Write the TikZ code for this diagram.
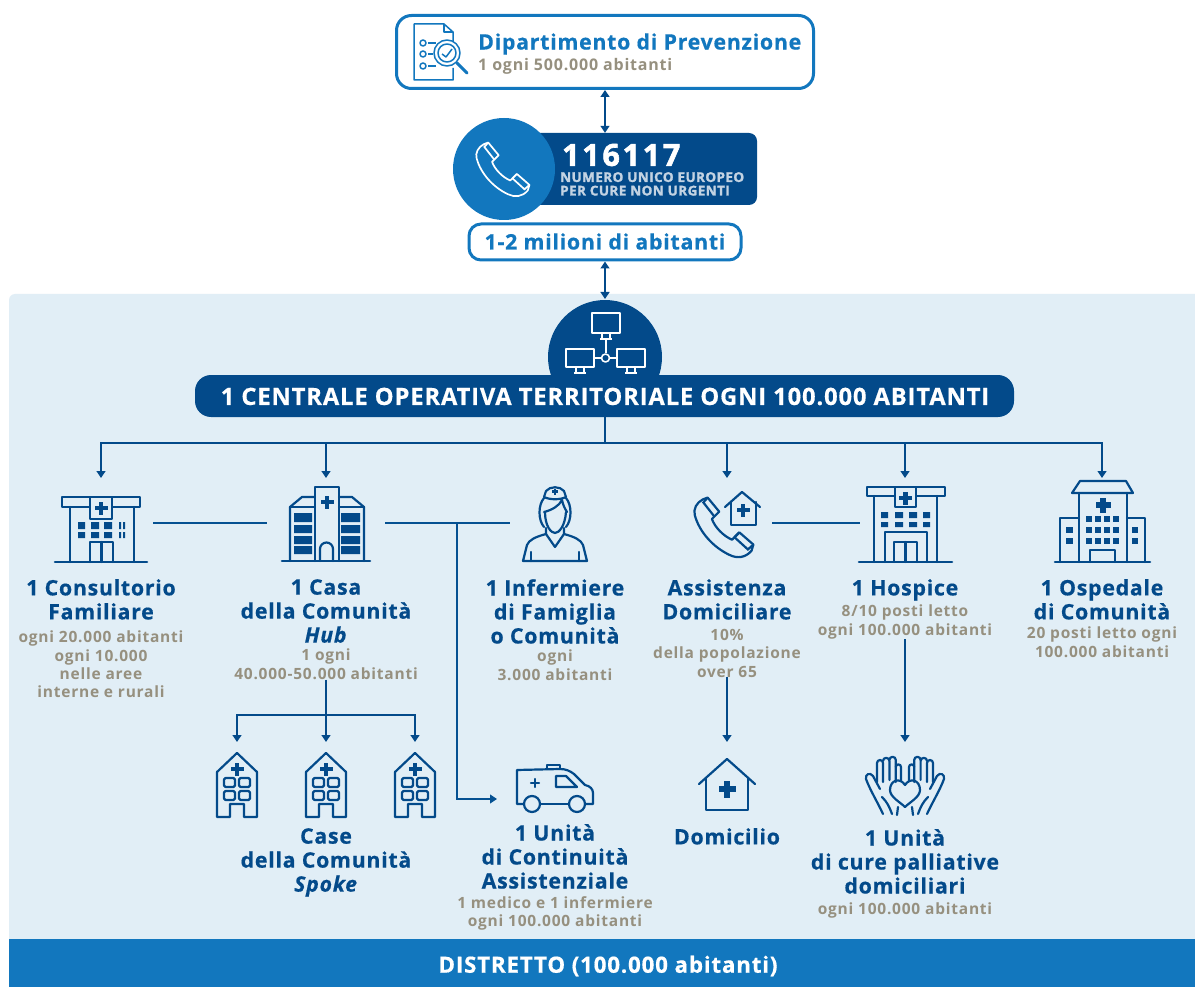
\documentclass[tikz,border=0pt]{standalone}
\usepackage{fontspec}
\setmainfont{Open Sans}[Ligatures=NoCommon]
\newfontfamily\numfont[LetterSpace=9,FakeBold=2]{Open Sans}
\newfontfamily\capsfont[LetterSpace=3,FakeBold=1.5]{Open Sans}
\newfontfamily\ttlfont[LetterSpace=3.5,FakeBold=.5,Ligatures=NoCommon]{Open Sans}
\newfontfamily\subfont[LetterSpace=5,Ligatures=NoCommon]{Open Sans}
\usetikzlibrary{arrows.meta,calc}
\definecolor{dkblue}{HTML}{034A8A}
\definecolor{mdblue}{HTML}{1277BE}
\definecolor{ltblue}{HTML}{E1EEF6}
\definecolor{tgrey}{HTML}{96907F}
\definecolor{pale}{HTML}{C3D3E3}
\newcommand{\plussign}[3]{\fill ({#1-#3/2},{#2-#3*.18}) rectangle ({#1+#3/2},{#2+#3*.18}); \fill ({#1-#3*.18},{#2-#3/2}) rectangle ({#1+#3*.18},{#2+#3/2});}
\newcommand{\phonecurve}[4]{\begin{scope}[shift={(#1,#2)},xscale=#3,yscale=#3,#4]
\draw[line join=round] (16,4) -- (24,1) -- (43,24) -- (31,36) .. controls (36,50) and (50,64) .. (64,70) -- (76,58) -- (99,78) -- (96,88) .. controls (86,100) and (72,101) .. (60,95) .. controls (32,82) and (10,56) .. (3,30) .. controls (0,20) and (6,9) .. (16,4) -- cycle;
\draw (24,1) -- (17,9) -- (35,32) (76,58) -- (68,66) (99,78) -- (90,86) -- (68,66);
\end{scope}}
\newcommand{\spokehouse}[1]{\begin{scope}[shift={(#1,0)}]
\draw[icon] (-20,772) -- (0,753) -- (20,772) -- (20,817) -- (7,817) -- (7,804) -- (-7,804) -- (-7,817) -- (-20,817) -- cycle;
\plussign{0}{769}{13}
\draw[icon,rounded corners=1.5pt] (-13,778) rectangle (-2,787) (2,778) rectangle (13,787) (-13,791) rectangle (-2,800) (2,791) rectangle (13,800);
\end{scope}}
\tikzset{
  x=1pt,y=-1pt,
  link/.style={draw=dkblue,line width=1.3pt},
  flat/.style={draw=dkblue!85!mdblue,line width=1.2pt},
  tip/.style={-{Triangle[width=9pt,length=7pt]}},
  dbl/.style={{Triangle[width=9pt,length=7pt]}-{Triangle[width=9pt,length=7pt]}},
  icon/.style={draw=dkblue,line width=2.2pt,line join=round,line cap=round},
  slot/.style={inner sep=0pt,outer sep=0pt,minimum width=#1},
  ttl/.style={anchor=north,align=center,inner sep=0pt,text=dkblue,font=\fontsize{21.3}{24}\ttlfont\bfseries},
  sub/.style={anchor=north,align=center,inner sep=0pt,text=tgrey,font=\fontsize{15.5}{18.3}\subfont\bfseries},
  frame/.style={draw=mdblue,line width=3pt,fill=white,inner sep=0pt},
}
\begin{document}
\begin{tikzpicture}
\useasboundingbox (0,0) rectangle (1195,987);
\fill[white] (0,0) rectangle (1195,987);
% panels
\fill[ltblue] (9,945) -- (9,300) arc[start angle=180,end angle=90,radius=6pt] -- (1195,294) -- (1195,945) -- cycle;
\fill[mdblue] (9,939) rectangle (1195,987);
\coordinate (panelTop) at (605,299);
\node[text=white,inner sep=0pt,font=\fontsize{22.4}{24}\ttlfont\bfseries] (distretto) at (608,966) {DISTRETTO (100.000 abitanti)};
% top box
\node[frame,rounded corners=15pt,minimum width=417pt,minimum height=73pt] (dip) at (605,52) {};
\node[anchor=west,inner sep=0pt,text=mdblue,font=\fontsize{21.3}{26}\ttlfont\bfseries] (dipT) at (478,44) {Dipartimento di Prevenzione};
\node[anchor=west,inner sep=0pt,text=tgrey,font=\fontsize{16}{18}\subfont\bfseries] (dipS) at (478,66) {1 ogni 500.000 abitanti};
\begin{scope}[draw=mdblue,line width=1.5pt,line join=round]
\draw (453,42) -- (453,32) -- (444,24) -- (414,24) -- (414,80) -- (453,80) -- (453,68);
\draw (444,24) -- (444,32) -- (453,32);
\draw (423,43) circle[radius=3pt] (423,54) circle[radius=3pt] (423,66) circle[radius=3pt];
\draw (428,43) -- (436,43) (428,54) -- (433,54) (428,66) -- (436,66);
\draw[fill=white] (447,53) circle[radius=13pt];
\draw (447,53) circle[radius=9pt];
\draw (442,54) -- (446,57) -- (452,49);
\draw[line width=3pt,line cap=round] (457,63) -- (467,73);
\end{scope}
% phone block
\node[fill=dkblue,rounded corners=8pt,minimum width=227pt,minimum height=72pt,inner sep=0pt] (tel) at (643.5,169) {};
\node[circle,fill=mdblue,minimum size=102pt,inner sep=0pt] (telC) at (504,169) {};
\phonecurve{475}{142}{.55}{draw=white,line width=1.7pt}
\node[anchor=west,inner sep=0pt,text=white,font=\fontsize{30.5}{34}\numfont\bfseries] (num) at (562,155) {116117};
\node[anchor=north west,align=left,inner sep=0pt,text=pale,font=\fontsize{13.5}{13.5}\capsfont\bfseries] (numS) at (560,172) {NUMERO UNICO EUROPEO\\PER CURE NON URGENTI};
\node[frame,rounded corners=12pt,minimum width=272pt,minimum height=36pt] (mil) at (605,242) {};
\node[inner sep=0pt,text=mdblue,font=\fontsize{21.3}{25}\ttlfont\bfseries] (milT) at (605,241.5) {1-2 milioni di abitanti};
% network circle and pill
\node[circle,fill=dkblue,minimum size=114pt,inner sep=0pt] (netC) at (605,357) {};
\begin{scope}[draw=white,line width=1.6pt,line join=round]
\draw (592,313) rectangle (620,333) (566,349) rectangle (594,367) (617,349) rectangle (645,367);
\draw (602,333) -- (602,338) (610,333) -- (610,338) (600,339) -- (612,339);
\draw (576,367) -- (576,372) (584,367) -- (584,372) (574,373) -- (586,373);
\draw (627,367) -- (627,372) (635,367) -- (635,372) (625,373) -- (637,373);
\draw (606,339) -- (606,353) (594,358) -- (601,358) (610,358) -- (617,358);
\draw (605.5,358) circle[radius=4pt];
\end{scope}
\node[fill=dkblue,rounded corners=16pt,minimum width=819pt,minimum height=42pt,inner sep=0pt] (pill) at (604.5,396) {};
\node[inner sep=0pt,text=white,font=\fontsize{23.8}{26}\ttlfont\bfseries] (pillT) at (605,396.5) {1 CENTRALE OPERATIVA TERRITORIALE OGNI 100.000 ABITANTI};
% invisible slots for icons
\node[slot=104pt,minimum height=90pt] (iCons) at (101,523) {};
\node[slot=118pt,minimum height=90pt] (iCasa) at (326,523) {};
\node[slot=90pt,minimum height=90pt] (iNurse) at (555,523) {};
\node[slot=90pt,minimum height=90pt] (iAss) at (727,523) {};
\node[slot=90pt,minimum height=90pt] (iHosp) at (905,523) {};
\node[slot=96pt,minimum height=90pt] (iOsp) at (1102,523) {};
\node[slot=44pt,minimum height=78pt] (iSpA) at (237,781) {};
\node[slot=44pt,minimum height=78pt] (iSpB) at (326,781) {};
\node[slot=44pt,minimum height=78pt] (iSpC) at (415,781) {};
\node[slot=100pt,minimum height=30pt] (iAmb) at (547,799) {};
\node[slot=60pt,minimum height=78pt] (iDom) at (727,781) {};
\node[slot=84pt,minimum height=78pt] (iHands) at (905,781) {};
% texts
\node[ttl] (tCons) at (101,579) {1 Consultorio\\Familiare};
\node[sub] (sCons) at (101,631) {ogni 20.000 abitanti\\ogni 10.000\\nelle aree\\interne e rurali};
\node[ttl] (tCasa) at (326,579) {1 Casa\\della Comunità\\\textit{Hub}};
\node[sub] (sCasa) at (326,649) {1 ogni\\40.000-50.000 abitanti};
\node[ttl] (tInf) at (555,579) {1 Infermiere\\di Famiglia\\o Comunità};
\node[sub] (sInf) at (555,650) {ogni\\3.000 abitanti};
\node[ttl] (tAss) at (727,579) {Assistenza\\Domiciliare};
\node[sub] (sAss) at (727,629) {10\%\\della popolazione\\over 65};
\node[ttl] (tHosp) at (905,579) {1 Hospice};
\node[sub] (sHosp) at (905,605) {8/10 posti letto\\ogni 100.000 abitanti};
\node[ttl] (tOsp) at (1102,579) {1 Ospedale\\di Comunità};
\node[sub] (sOsp) at (1102,627) {20 posti letto ogni\\100.000 abitanti};
\node[ttl] (tCase) at (326,828) {Case\\della Comunità\\\textit{Spoke}};
\node[ttl] (tUni) at (555,824) {1 Unità\\di Continuità\\Assistenziale};
\node[sub] (sUni) at (555,896) {1 medico e 1 infermiere\\ogni 100.000 abitanti};
\node[ttl] (tDom) at (727,828) {Domicilio};
\node[ttl] (tCure) at (905,829) {1 Unità\\di cure palliative\\domiciliari};
\node[sub] (sCure) at (905,903) {ogni 100.000 abitanti};
% connectors
\draw[link,dbl] (dip.south) -- (dip.south |- tel.north);
\draw[link,dbl] (mil.south) -- (panelTop);
\coordinate (bus) at (605,443);
\draw[link] (pill.south -| bus) -- (bus);
\draw[link,tip] (bus) -| (iCons.north);
\draw[link,tip] (bus) -| (iCasa.north);
\draw[link,tip] (bus) -| (iAss.north);
\draw[link,tip] (bus) -| (iHosp.north);
\draw[link,tip] (bus) -| (iOsp.north);
\draw[flat] (iCons.east) -- (iCasa.west);
\draw[flat] (iCasa.east) -- (iNurse.west);
\draw[flat] (iAss.east) -- (iHosp.west);
\coordinate (jCasa) at (457,523);
\draw[flat,tip] (jCasa) |- (iAmb.west);
\coordinate (spBus) at (326,715);
\draw[link,tip] (sCasa.south) -- (iSpB.north);
\draw[link,tip] (spBus) -| (iSpA.north);
\draw[link,tip] (spBus) -| (iSpC.north);
\draw[link,tip] (sAss.south) -- (iDom.north);
\draw[link,tip] (sHosp.south) -- (iHands.north);
% icon: consultorio
\draw[icon,line width=2.6pt] (55,562) -- (147,562);
\draw[icon] (62,497) rectangle (140,507);
\draw[icon] (70,507) -- (70,562) (134,507) -- (134,562);
\draw[icon,fill=ltblue] (90,497) rectangle (112,519);
\begin{scope}[fill=dkblue]
\plussign{101}{508}{13}
\fill (78,522) rectangle (85,529) (91,522) rectangle (99,529) (104,522) rectangle (112,529);
\fill (78,532) rectangle (85,538) (91,532) rectangle (99,538) (104,532) rectangle (112,538);
\fill (119,522) rectangle (121,529) (123,522) rectangle (125,529) (119,532) rectangle (121,538) (123,532) rectangle (125,538);
\end{scope}
\draw[icon] (90,562) -- (90,542) -- (113,542) -- (113,562) (101.5,542) -- (101.5,562);
% icon: casa
\draw[icon,line width=2.6pt] (282,561) -- (370,561);
\draw[icon] (315,561) -- (315,487) -- (339,487) -- (339,561);
\draw[icon] (315,497) -- (302,497) -- (290,507) -- (290,561);
\draw[icon] (339,497) -- (352,497) -- (364,507) -- (364,561);
\draw[icon] (290,507) -- (315,507) (339,507) -- (364,507);
\begin{scope}[fill=dkblue]
\plussign{327}{502}{13}
\fill (294,513) rectangle (312,522) (294,525) rectangle (312,533) (294,536) rectangle (312,544) (294,546) rectangle (312,554);
\fill (341,513) rectangle (360,522) (341,525) rectangle (360,533) (341,536) rectangle (360,544) (341,546) rectangle (360,554);
\end{scope}
\draw[icon] (320,561) -- (320,549) arc[start angle=180,end angle=0,radius=6.5pt] -- (333,561);
% icon: nurse
\begin{scope}[icon]
\draw (546,491) .. controls (550,486) and (560,486) .. (564,491) -- (566,497) .. controls (560,500) and (550,500) .. (544,497) -- cycle;
\draw (544,498) .. controls (538,505) and (538,520) .. (544,527);
\draw (566,498) .. controls (572,505) and (572,520) .. (566,527);
\draw (544,512) .. controls (552,510) and (559,506) .. (562,500) .. controls (563,505) and (565,509) .. (567,512);
\draw (545,512) .. controls (545,526) and (551,533) .. (555,533) .. controls (559,533) and (565,526) .. (566,512);
\draw (546,528) -- (546,534) -- (555,547) -- (564,534) -- (564,528);
\draw (546,534) .. controls (535,537) and (529,540) .. (527,545) -- (523,561) -- (587,561) -- (583,545) .. controls (581,540) and (575,537) .. (564,534);
\draw (531,552) -- (531,561) (579,552) -- (579,561);
\end{scope}
\begin{scope}[fill=dkblue]\plussign{555}{491.5}{6}\end{scope}
% icon: phone + house
\phonecurve{693}{497}{.61}{draw=dkblue,line width=2.2pt}
\draw[icon] (725,507) -- (742,492) -- (760,507);
\draw[icon] (731,502) -- (731,525) -- (756,525) -- (756,502);
\begin{scope}[fill=dkblue]\plussign{743}{510}{13}\end{scope}
% icon: hospice
\draw[icon,line width=2.6pt] (859,562) -- (952,562);
\draw[icon] (867,487) rectangle (945,496);
\draw[icon] (874,496) -- (874,562) (937,496) -- (937,562);
\draw[icon,fill=ltblue] (895,487) rectangle (916,507);
\begin{scope}[fill=dkblue]
\plussign{905.5}{498}{13}
\fill (881,512) rectangle (888,518) (895,512) rectangle (903,518) (909,512) rectangle (917,518) (923,512) rectangle (930,518);
\fill (881,522) rectangle (888,527) (895,522) rectangle (903,527) (909,522) rectangle (917,527) (923,522) rectangle (930,527);
\end{scope}
\draw[icon] (885,562) -- (885,532) -- (927,532) -- (927,562);
\draw[icon] (894,562) -- (894,542) -- (917,542) -- (917,562) (905.5,542) -- (905.5,562);
% icon: ospedale
\draw[icon,line width=2.6pt] (1055,562) -- (1150,562);
\draw[icon] (1080,481) -- (1126,481) -- (1133,493) -- (1072,493) -- cycle;
\draw[icon] (1079,493) -- (1079,562) (1127,493) -- (1127,562);
\draw[icon] (1079,518) -- (1060,518) -- (1060,562) (1127,518) -- (1145,518) -- (1145,562);
\draw[icon] (1090,562) -- (1090,550) -- (1115,550) -- (1115,562);
\begin{scope}[fill=dkblue]
\plussign{1103}{505}{15}
\foreach \yy in {516,527,538}{
  \foreach \xx in {1086,1095,1104,1113}{\fill (\xx,\yy) rectangle (\xx+5.5,\yy+5.5);}
}
\foreach \yy in {527,538}{\fill (1066,\yy) rectangle (1073,\yy+5.5); \fill (1132,\yy) rectangle (1138,\yy+5.5);}
\end{scope}
% icons: spoke houses
\begin{scope}[fill=dkblue]
\spokehouse{237}\spokehouse{326}\spokehouse{415}
\end{scope}
% icon: ambulance
\begin{scope}[icon]
\draw (524,804) -- (517,804) -- (517,770) -- (560,769) .. controls (566,769) and (570,771) .. (574,774) -- (585,785) .. controls (590,786) and (593,789) .. (593,793) -- (593,804) -- (586,804);
\draw (547,769) -- (547,765) -- (560,765) -- (560,769);
\draw (556,776) -- (566,776) -- (577,787) -- (556,787) -- cycle;
\draw (532,804) circle[radius=8pt] (577,804) circle[radius=8pt];
\draw (540,804) -- (569,804);
\draw (531,783) -- (539,783) (535,779) -- (535,787);
\end{scope}
% icon: domicilio
\draw[icon] (699,784) -- (727,759) -- (755,784);
\draw[icon] (706,778) -- (706,810) -- (748,810) -- (748,778);
\begin{scope}[fill=dkblue]\plussign{727}{789}{17}\end{scope}
% icon: hands
\foreach \sx/\ox in {1/0,-1/1810}{
\begin{scope}[icon,xscale=\sx,shift={(\ox*\sx,0)}]
\draw (883,814) .. controls (878,803) and (870,790) .. (866,779) .. controls (865,774) and (870,772) .. (873,776) -- (880,789);
\draw (882,797) .. controls (887,802) and (889,806) .. (892,814);
\draw (877,782) -- (877,763) arc[start angle=180,end angle=0,radius=3pt] -- (883,782);
\draw (883,761) arc[start angle=180,end angle=0,radius=3.2pt] -- (889.4,780);
\draw (889.4,760) arc[start angle=180,end angle=0,radius=3.2pt] -- (895.8,782);
\draw (895.8,767) arc[start angle=180,end angle=0,radius=2.6pt] -- (901,781);
\draw (898,807) -- (897,815);
\end{scope}}
\draw[icon] (905,785) .. controls (900,777) and (890,780) .. (890,790) .. controls (890,797) and (900,802) .. (905,807) .. controls (910,802) and (920,797) .. (920,790) .. controls (920,780) and (910,777) .. (905,785) -- cycle;
\end{tikzpicture}
\end{document}
